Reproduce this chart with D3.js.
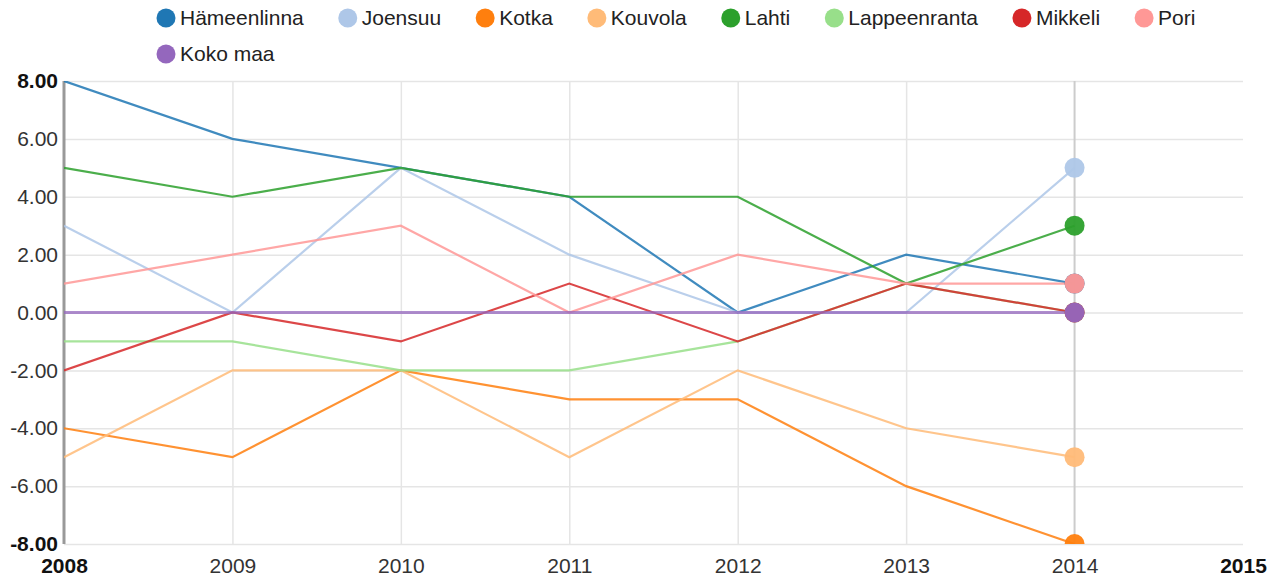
<!DOCTYPE html>
<html>
<head>
<meta charset="utf-8">
<script src="https://cdn.jsdelivr.net/npm/d3@7"></script>
<style>
  body { margin: 0; background: #fff; font-family: "Liberation Sans", Arial, sans-serif; }
  .grid line { stroke: #e5e5e5; stroke-width: 1.5px; }
  .grid path { display: none; }
  .axis path { display: none; }
  .axis text { fill: #333; font-size: 21px; }
  .legend text { font-size: 21px; fill: #222; }
</style>
</head>
<body>
<div id="chart"></div>
<script>
var years = [2008, 2009, 2010, 2011, 2012, 2013, 2014];
var names = ["Hämeenlinna", "Joensuu", "Kotka", "Kouvola", "Lahti", "Lappeenranta", "Mikkeli", "Pori", "Koko maa"];
var hameenlinna = [8, 6, 5, 4, 0, 2, 1];
var joensuu = [3, 0, 5, 2, 0, 0, 5];
var kotka = [-4, -5, -2, -3, -3, -6, -8];
var kouvola = [-5, -2, -2, -5, -2, -4, -5];
var lahti = [5, 4, 5, 4, 4, 1, 3];
var lappeenranta = [-1, -1, -2, -2, -1, 1, 0];
var mikkeli = [-2, 0, -1, 1, -1, 1, 0];
var pori = [1, 2, 3, 0, 2, 1, 1];
var kokoMaa = [0, 0, 0, 0, 0, 0, 0];
var yTicks = [-8, -6, -4, -2, 0, 2, 4, 6, 8];
var xTicks = [2008, 2009, 2010, 2011, 2012, 2013, 2014, 2015];
var colors = ["#1f77b4", "#aec7e8", "#ff7f0e", "#ffbb78", "#2ca02c", "#98df8a", "#d62728", "#ff9896", "#9467bd"];

var values = [hameenlinna, joensuu, kotka, kouvola, lahti, lappeenranta, mikkeli, pori, kokoMaa];
var series = names.map(function(n, i) {
  return { name: n, color: colors[i], values: years.map(function(y, j) { return { x: y, y: values[i][j] }; }) };
});

var W = 1271, H = 580;
var margin = { top: 81, right: 28, bottom: 36, left: 64 };
var width = W - margin.left - margin.right;
var height = H - margin.top - margin.bottom;

var svg = d3.select("#chart").append("svg")
  .attr("width", W)
  .attr("height", H);

var x = d3.scaleLinear().domain([2008, 2015]).range([0, width]);
var y = d3.scaleLinear().domain([-8, 8]).range([height, 0]);

var g = svg.append("g").attr("transform", "translate(" + margin.left + "," + margin.top + ")");

// grid
g.append("g").attr("class", "grid")
  .call(d3.axisLeft(y).tickValues(yTicks).tickSize(-width).tickFormat(""));
g.append("g").attr("class", "grid")
  .attr("transform", "translate(0," + height + ")")
  .call(d3.axisBottom(x).tickValues(xTicks.slice(1, 6)).tickSize(height).tickFormat(""))
  .selectAll("line").attr("transform", "translate(0," + (-height) + ")");

// guideline at last year
g.append("line")
  .attr("x1", x(years[years.length - 1])).attr("x2", x(years[years.length - 1]))
  .attr("y1", 0).attr("y2", height)
  .attr("stroke", "#ccc").attr("stroke-width", 2);

// y axis line
g.append("line")
  .attr("x1", 0).attr("x2", 0).attr("y1", 0).attr("y2", height)
  .attr("stroke", "#999").attr("stroke-width", 3);

// axes labels
var yAxis = g.append("g").attr("class", "axis")
  .call(d3.axisLeft(y).tickValues(yTicks).tickSize(0).tickPadding(6)
    .tickFormat(function(d) { return d.toFixed(2); }));
yAxis.selectAll("text")
  .style("font-weight", function(d) { return (d === -8 || d === 8) ? "bold" : null; })
  .style("fill", function(d) { return (d === -8 || d === 8) ? "#111" : null; });

var xAxis = g.append("g").attr("class", "axis")
  .attr("transform", "translate(0," + height + ")")
  .call(d3.axisBottom(x).tickValues(xTicks).tickSize(0).tickPadding(14).tickFormat(d3.format("d")));
xAxis.selectAll("text")
  .style("font-weight", function(d) { return (d === 2008 || d === 2015) ? "bold" : null; })
  .style("fill", function(d) { return (d === 2008 || d === 2015) ? "#111" : null; });

// clip
svg.append("defs").append("clipPath").attr("id", "clip")
  .append("rect").attr("x", 0).attr("y", 0).attr("width", width).attr("height", height);

var plot = g.append("g").attr("clip-path", "url(#clip)");

var line = d3.line().x(function(d) { return x(d.x); }).y(function(d) { return y(d.y); });

plot.selectAll(".line").data(series).enter().append("path")
  .attr("class", "line")
  .attr("d", function(d) { return line(d.values); })
  .attr("fill", "none")
  .attr("stroke", function(d) { return d.color; })
  .attr("stroke-opacity", function(d) { return d.name === "Koko maa" ? 0.75 : 0.85; })
  .attr("stroke-width", function(d) { return d.name === "Koko maa" ? 3 : 2.2; });

plot.selectAll(".dot").data(series).enter().append("circle")
  .attr("class", "dot")
  .attr("cx", function(d) { return x(d.values[d.values.length - 1].x); })
  .attr("cy", function(d) { return y(d.values[d.values.length - 1].y); })
  .attr("r", 10)
  .attr("fill", function(d) { return d.color; })
  .attr("fill-opacity", 0.95);

// legend
var legend = svg.append("g").attr("class", "legend");
var lx = 166, ly = 18;
series.forEach(function(s) {
  var item = legend.append("g");
  item.append("circle").attr("r", 9.5).attr("fill", s.color);
  var t = item.append("text").attr("x", 14).attr("dy", "0.35em").text(s.name);
  var w = t.node().getComputedTextLength();
  if (lx + 14 + w > W - 20) { lx = 166; ly += 36; }
  item.attr("transform", "translate(" + lx + "," + ly + ")");
  lx += 14 + w + 44;
});
</script>
</body>
</html>
